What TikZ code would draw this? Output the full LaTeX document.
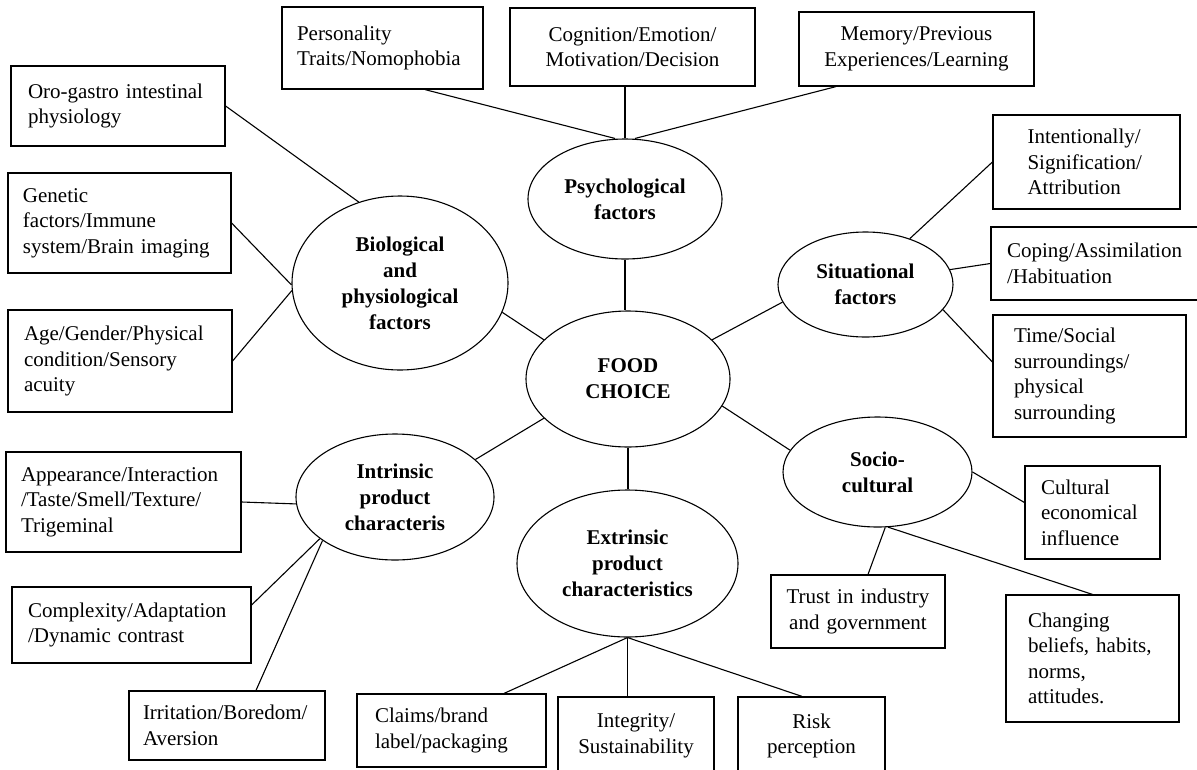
\documentclass[tikz,border=0pt]{standalone}
\usepackage{fontspec}
\setmainfont{Liberation Serif}
\usetikzlibrary{shapes.geometric,calc}
\begin{document}
\begin{tikzpicture}[x=1pt,y=-1pt,
  txt/.style={font=\fontsize{21}{25.5}\selectfont},
  box/.style={draw, line width=1.2pt, inner sep=0pt, txt},
  oval/.style={draw, ellipse, line width=1.1pt, inner sep=0pt, align=center, font=\fontsize{21}{26}\selectfont\bfseries},
  link/.style={line width=1.1pt}]
\fill[white] (0,0) rectangle (1197,769);
\clip (0,0) rectangle (1197,769);

% ellipses
\node[oval, minimum width=194pt, minimum height=120pt] (psych) at (625,199) {Psychological\\factors};
\node[oval, minimum width=216pt, minimum height=174pt] (bio) at (400,283) {Biological\\and\\physiological\\factors};
\node[oval, minimum width=204pt, minimum height=136pt] (food) at (628,379) {FOOD\\CHOICE};
\node[oval, minimum width=175pt, minimum height=105pt] (situ) at (865.5,284.5) {Situational\\factors};
\node[oval, minimum width=189pt, minimum height=110pt] (socio) at (877.5,472) {Socio-\\cultural};
\node[oval, minimum width=198pt, minimum height=126pt] (intr) at (395,497) {Intrinsic\\product\\characteris};
\node[oval, minimum width=221pt, minimum height=147pt] (extr) at (627.5,563.5) {Extrinsic\\product\\characteristics};

% boxes
\node[box, minimum width=201pt, minimum height=82pt, text width=171pt, align=left] (pers) at (382.5,48) {Personality\\Traits/Nomophobia};
\node[box, minimum width=245pt, minimum height=78pt, text width=235pt, align=center] (cogn) at (632.5,47) {Cognition/Emotion/\\Motivation/Decision};
\node[box, minimum width=235pt, minimum height=74pt, text width=225pt, align=center] (memo) at (916.5,49) {Memory/Previous\\Experiences/Learning};
\node[box, minimum width=214pt, minimum height=80pt, text width=180pt, align=left] (oro) at (118,106) {Oro-gastro intestinal\\physiology};
\node[box, minimum width=223pt, minimum height=100pt, text width=193pt, align=left] (gene) at (119.5,223) {Genetic\\factors/Immune\\system/Brain imaging};
\node[box, minimum width=224pt, minimum height=102pt, text width=192pt, align=left] (age) at (120,361) {Age/Gender/Physical\\condition/Sensory\\acuity};
\node[box, minimum width=235pt, minimum height=100pt, text width=205pt, align=left] (appe) at (123.5,502) {Appearance/Interaction\\/Taste/Smell/Texture/\\Trigeminal};
\node[box, minimum width=239pt, minimum height=76pt, text width=207pt, align=left] (comp) at (131.5,625) {Complexity/Adaptation\\/Dynamic contrast};
\node[box, minimum width=196pt, minimum height=69pt, text width=168pt, align=left] (irri) at (227,725.5) {Irritation/Boredom/\\Aversion};
\node[box, minimum width=189pt, minimum height=73pt, text width=153pt, align=left] (clai) at (451.5,730.5) {Claims/brand\\label/packaging};
\node[box, minimum width=156pt, minimum height=78pt, text width=146pt, align=center] (inte) at (636,736) {Integrity/\\Sustainability};
\node[box, minimum width=147pt, minimum height=78pt, text width=137pt, align=center] (risk) at (811.5,736) {Risk\\perception};
\node[box, minimum width=174pt, minimum height=73pt, text width=164pt, align=center] (trus) at (858,611.5) {Trust in industry\\and government};
\node[box, minimum width=173pt, minimum height=127pt, text width=129pt, align=left] (chan) at (1092.5,658.5) {Changing\\beliefs, habits,\\norms,\\attitudes.};
\node[box, minimum width=135pt, minimum height=93pt, text width=103pt, align=left] (cult) at (1092.5,512.5) {Cultural\\economical\\influence};
\node[box, minimum width=193pt, minimum height=122pt, text width=151pt, align=left] (time) at (1089.5,376) {Time/Social\\surroundings/\\physical\\surrounding};
\node[box, minimum width=219pt, minimum height=73pt, text width=187pt, align=left] (copi) at (1100.5,263.5) {Coping/Assimilation\\/Habituation};
\node[box, minimum width=187pt, minimum height=94pt, text width=118pt, align=left] (inten) at (1086.5,162) {Intentionally/\\Signification/\\Attribution};

% connectors
\draw[link] ([xshift=42.5pt]pers.south) -- ([xshift=-10pt]psych.north);
\draw[link] (psych.north) -- (psych.north |- cogn.south);
\draw[link] ([xshift=-80.5pt]memo.south) -- ([xshift=10pt]psych.north);
\draw[link] (psych.south) -- (psych.south |- food.north);
\draw[link] (oro.east) -- (bio.117);
\draw[link] (gene.east) -- (bio.181);
\draw[link] (age.east) -- (bio.184);
\draw[link] (bio.344) -- (food.155);
\draw[link] (food.25) -- (situ.192);
\draw[link] (situ.46) -- (inten.west);
\draw[link] (situ.10) -- (copi.west);
\draw[link] (situ.342) -- ([yshift=14pt]time.west);
\draw[link] (food.344) -- (socio.166);
\draw[link] (socio.0) -- ([yshift=10pt]cult.west);
\draw[link] (socio.278) -- ([xshift=10pt]trus.north);
\draw[link] (socio.281) -- (chan.north);
\draw[link] (food.205) -- (intr.25);
\draw[link] (intr.184) -- (appe.east);
\draw[link] (intr.209) -- ([yshift=20pt]comp.east);
\draw[link] (intr.211) -- ([xshift=29pt]irri.north);
\draw[link] (food.south) -- (food.south |- extr.north);
\draw[link] (extr.south) -- ([xshift=52.5pt]clai.north);
\draw[link] (extr.south) -- (extr.south |- inte.north);
\draw[link] (extr.south) -- ([xshift=-9.5pt]risk.north);
\end{tikzpicture}
\end{document}
